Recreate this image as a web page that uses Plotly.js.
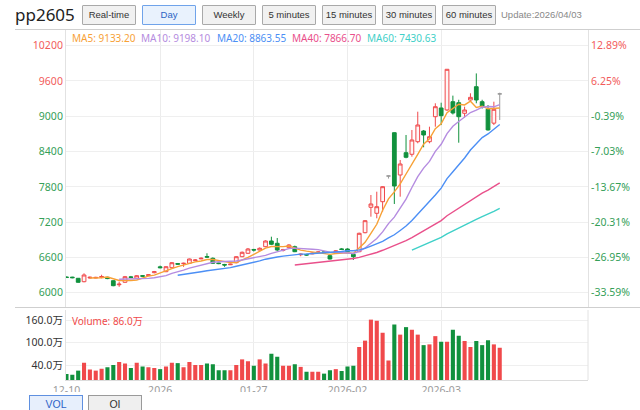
<!DOCTYPE html>
<html><head><meta charset="utf-8">
<script src="https://cdn.plot.ly/plotly-3.0.1.min.js"></script>
<style>
body{margin:0;width:640px;height:410px;overflow:hidden;background:#fff;position:relative;font-family:"Noto Sans","Noto Sans CJK SC",sans-serif}
#chart{position:absolute;left:0;top:0;width:640px;height:410px}
.ttl{position:absolute;left:15px;top:3px;font-size:17px;color:#222;line-height:24px}
.btn{position:absolute;top:5px;width:54px;height:20px;line-height:18px;border:1px solid #a9a9a9;background:#f1f1f1;font-size:9.5px;color:#333;text-align:center;box-sizing:border-box;border-radius:1px;white-space:nowrap;font-family:"Liberation Sans",Arial,sans-serif}
.btn.on{background:#e9f2fd;border-color:#6fa3ea;color:#2c64c4}
.upd{position:absolute;left:501px;top:9px;font-size:9.5px;color:#888;white-space:nowrap;font-family:"Liberation Sans",Arial,sans-serif}
.hl{position:absolute;height:1px;background:#cfcfcf}
.strip{position:absolute;left:0;top:392px;width:640px;height:18px;background:#fff}
.tab{position:absolute;top:395px;width:54px;height:20px;line-height:16px;font-size:10.5px;text-align:center;box-sizing:border-box;font-family:"Liberation Sans",Arial,sans-serif}
</style></head>
<body>
<div id="chart"></div>
<div class="ttl">pp2605</div>
<div class="btn" style="left:82px">Real-time</div>
<div class="btn on" style="left:142px">Day</div>
<div class="btn" style="left:202px">Weekly</div>
<div class="btn" style="left:262px">5 minutes</div>
<div class="btn" style="left:322px">15 minutes</div>
<div class="btn" style="left:382px">30 minutes</div>
<div class="btn" style="left:442px">60 minutes</div>
<div class="upd">Update:2026/04/03</div>
<div class="hl" style="left:15px;top:29px;width:625px"></div>
<div class="hl" style="left:15px;top:307px;width:625px"></div>
<div class="strip"></div>
<div class="tab" style="left:29px;border:1px solid #5f90e0;background:#e7effc;color:#2f63c8">VOL</div>
<div class="tab" style="left:88px;border:1px solid #9a9a9a;background:#efefef;color:#333">OI</div>
<script>
// ---- data ----
const openP  = [6268,6265,6245,6187,6250,6250,6262,6262,6204,6135,6177,6270,6245,6290,6290,6340,6440,6357,6425,6495,6495,6500,6545,6575,6615,6585,6505,6480,6475,6510,6612,6670,6735,6725,6782,6879,6840,6720,6765,6782,6645,6650,6660,6685,6695,6629,6700,6745,6743,6653,6697,7020,7452,7350,7547,7984,8720,8001,8380,8353,8567,8749,8567,8992,9140,9107,9247,9230,9050,9276,9502,9247,9118,8882,9380];
const highP  = [6275,6270,6250,6330,6275,6270,6305,6270,6210,6187,6285,6285,6300,6300,6315,6370,6460,6450,6520,6505,6510,6580,6570,6600,6670,6600,6510,6490,6495,6620,6700,6760,6745,6770,6890,6952,6930,6745,6825,6800,6665,6660,6685,6700,6705,6640,6720,6760,6755,6670,7020,7235,7661,7717,7810,7990,8725,8256,8681,8766,9077,8766,8822,9220,9230,9800,9350,9280,9162,9390,9728,9280,9190,9247,9400];
const lowP   = [6250,6245,6170,6177,6240,6245,6245,6230,6110,6100,6170,6250,6240,6270,6285,6330,6415,6350,6420,6475,6440,6490,6540,6570,6590,6490,6485,6440,6470,6500,6605,6660,6700,6720,6775,6810,6710,6700,6755,6690,6620,6630,6655,6680,6670,6565,6690,6725,6690,6556,6690,7010,7292,7265,7377,7940,7508,7632,8285,8312,8540,8472,8540,8822,8850,9090,9030,8550,8978,9247,9220,9130,8755,8850,8936];
const closeP = [6258,6255,6177,6301,6262,6260,6275,6240,6119,6145,6272,6258,6289,6280,6305,6357,6425,6442,6510,6485,6500,6573,6556,6585,6605,6500,6495,6470,6485,6612,6687,6743,6725,6755,6879,6823,6726,6730,6811,6697,6655,6640,6672,6692,6680,6573,6710,6735,6697,6612,7010,7224,7508,7462,7802,7984,7814,8188,8302,8596,8851,8681,8652,9162,9009,9798,9055,8992,9106,9321,9276,9162,8767,9118,9380];
const volume = [16,14,25,46,28,25,30,34,40,48,44,32,46,36,34,32,29,36,46,45,34,48,40,40,44,42,26,26,26,40,55,50,38,55,44,70,62,38,38,42,35,22,22,22,17,26,29,24,36,38,88,105,161,158,126,52,148,121,141,134,121,93,95,117,102,102,134,118,104,88,104,93,106,95,86];
const xTickLabels = ['12-10','2026','01-27','2026-02','2026-03'];
const xTickIndex  = [0,16,32,48,64];
const priceTicks  = [6000,6600,7200,7800,8400,9000,9600,10200];
const pctLabels   = ['-33.59%','-26.95%','-20.31%','-13.67%','-7.03%','-0.39%','6.25%','12.89%'];
const refPrice = 9035;
const maNames  = ['MA5','MA10','MA20','MA40','MA60'];
const maPeriods= [5,10,20,40,60];
const maValues = ['9133.20','9198.10','8863.55','7866.70','7430.63'];
const volTicks = [40,100,160];
const volTickLabels = ['40.0万','100.0万','160.0万'];
const volLast = '86.0万';

// ---- styles ----
const RED='#f0494b', GREEN='#11913d', GRAY='#9a9a9a';
const maColors=['#f7a136','#b58ce0','#4c8ff5','#e9508b','#3fd0c8'];
const FONT='"Noto Sans","Noto Sans CJK SC",sans-serif';
const idx = closeP.map((_,i)=>i);

function pick(cond){
  const s={x:[],open:[],high:[],low:[],close:[]};
  idx.forEach(i=>{ if(cond(i)){ s.x.push(i); s.open.push(openP[i]); s.high.push(highP[i]); s.low.push(lowP[i]); s.close.push(closeP[i]); }});
  return s;
}
function candle(s,line,fill){
  return Object.assign({type:'candlestick',xaxis:'x',yaxis:'y',whiskerwidth:0,hoverinfo:'skip',
    increasing:{line:{color:line,width:1},fillcolor:fill},
    decreasing:{line:{color:line,width:1},fillcolor:fill}},s);
}
const traces=[];
traces.push(candle(pick(i=>closeP[i]>openP[i]),RED,'#fff6f6'));
traces.push(candle(pick(i=>closeP[i]<openP[i]),GREEN,GREEN));
traces.push(candle(pick(i=>closeP[i]===openP[i]),GRAY,GRAY));

function ma(n){return closeP.map((v,i)=> i<n-1?null: closeP.slice(i-n+1,i+1).reduce((a,b)=>a+b,0)/n);}
maPeriods.forEach((n,k)=>{
  traces.push({type:'scatter',mode:'lines',x:idx,y:ma(n),xaxis:'x',yaxis:'y',
    line:{color:maColors[k],width:1.4},hoverinfo:'skip'});
});
traces.push({type:'scatter',mode:'markers',x:[0],y:[refPrice],xaxis:'x',yaxis:'y2',marker:{opacity:0},hoverinfo:'skip'});
traces.push({type:'bar',x:idx,y:volume,xaxis:'x2',yaxis:'y3',hoverinfo:'skip',
  marker:{color:idx.map(i=>closeP[i]>=openP[i]?RED:GREEN),line:{width:0}}});

// layout geometry (pixels)
const plotL=65.5, plotR=588, plotT=29, plotB=380;
const mainBottom=307, volTop=310;
const ph=plotB-plotT, pw=plotR-plotL;
const mainDom=[(plotB-mainBottom)/ph,1], volDom=[0,(plotB-volTop)/ph];
const slot=5.86;
const XR=[-0.08,(plotR-66)/slot];
const yTop=6000+(292.7-plotT)*17.0, yBot=6000-(mainBottom-292.7)*17.0;
const volMax=(plotB-volTop)/0.375;

const leftText=priceTicks.map(v=>'<span style="color:'+(v>refPrice?'#f25b5b':'#35a058')+'">'+v+'</span>');
const rightText=pctLabels.map(t=>'<span style="color:'+(t.charAt(0)==='-'?'#35a058':'#f25b5b')+'">'+t+'</span>');

const px2x=p=>(p-plotL)/pw, py2y=p=>(plotB-p)/ph;
const legendX=[69.5,139,215,289.5,364.5];
const annotations=maNames.map((n,k)=>({xref:'paper',yref:'paper',x:px2x(legendX[k]),y:py2y(37.5),
  xanchor:'left',yanchor:'middle',showarrow:false,text:n+': '+maValues[k],font:{size:10,color:maColors[k]}}));
annotations.push({xref:'paper',yref:'paper',x:px2x(69.5),y:py2y(321),xanchor:'left',yanchor:'middle',showarrow:false,
  text:'Volume: '+volLast,font:{size:10,color:'#f04a4a'}});

const layout={
  width:640,height:410,
  margin:{l:plotL,r:640-plotR,t:plotT,b:410-plotB,pad:0},
  paper_bgcolor:'rgba(0,0,0,0)',plot_bgcolor:'rgba(0,0,0,0)',
  showlegend:false,dragmode:false,
  boxgap:0.36,boxgroupgap:0,bargap:0.3,
  font:{family:FONT,size:10.5,color:'#333'},
  xaxis:{domain:[0,1],anchor:'y',range:XR,tickvals:xTickIndex,showticklabels:false,showgrid:true,gridcolor:'#ececec',
    zeroline:false,rangeslider:{visible:false},ticks:'',fixedrange:true},
  yaxis:{domain:mainDom,anchor:'x',range:[yBot,yTop],tickvals:priceTicks,ticktext:leftText,gridcolor:'#efefef',
    showline:true,linecolor:'#e2e2e2',zeroline:false,ticks:'',tickfont:{size:10.5},fixedrange:true},
  yaxis2:{overlaying:'y',side:'right',anchor:'x',range:[yBot,yTop],tickvals:priceTicks,ticktext:rightText,showgrid:false,
    showline:true,linecolor:'#e2e2e2',zeroline:false,ticks:'',tickfont:{size:10.5},fixedrange:true},
  xaxis2:{domain:[0,1],anchor:'y3',range:XR,tickvals:xTickIndex,ticktext:xTickLabels,showgrid:true,gridcolor:'#ececec',
    showline:true,linecolor:'#dcdcdc',zeroline:false,ticks:'',tickfont:{size:10.5,color:'#9a9a9a'},fixedrange:true},
  yaxis3:{domain:volDom,anchor:'x2',range:[0,volMax],tickvals:volTicks,ticktext:volTickLabels,gridcolor:'#efefef',
    showline:true,linecolor:'#e2e2e2',zeroline:false,ticks:'',tickfont:{size:10.5,color:'#333'},fixedrange:true},
  shapes:[{type:'line',xref:'paper',yref:'paper',x0:1,x1:1,y0:volDom[0],y1:volDom[1],line:{color:'#e2e2e2',width:1}}],
  annotations:annotations
};
Plotly.newPlot('chart',traces,layout,{staticPlot:true,displayModeBar:false});
</script>
</body></html>
